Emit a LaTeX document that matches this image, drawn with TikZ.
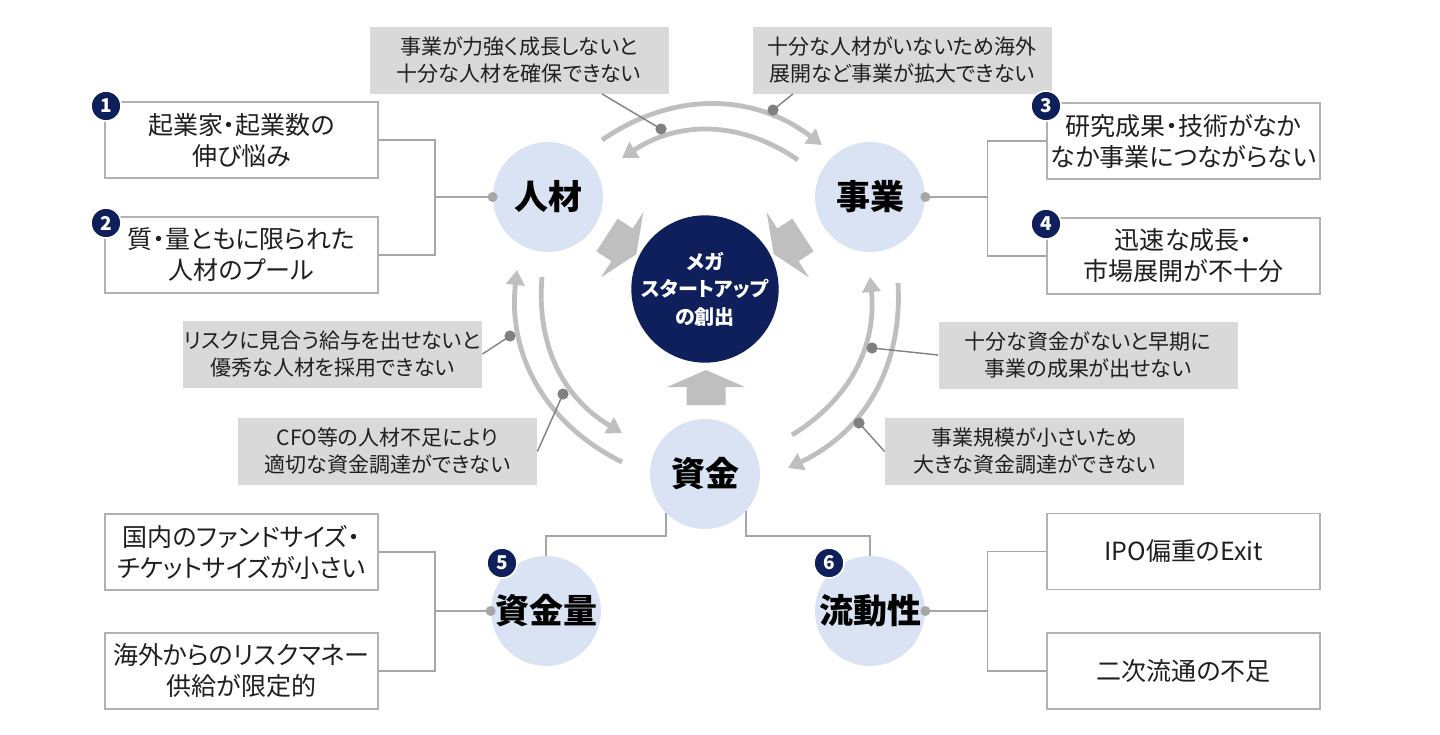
\documentclass[tikz,border=0pt]{standalone}
\usepackage{fontspec}
\setmainfont{Noto Sans CJK JP}[RawFeature=+palt]
\usepackage{xcolor}
\usepackage{tikz}
\usetikzlibrary{positioning,arrows.meta,calc}
\definecolor{factorBlue}{HTML}{DAE3F3}
\definecolor{megaNavy}{HTML}{0E1F5B}
\definecolor{noteGray}{HTML}{D9D9D9}
\definecolor{boxLine}{HTML}{B2B2B2}
\definecolor{linkGray}{HTML}{A6A6A6}
\definecolor{leadGray}{HTML}{808080}
\definecolor{arcGray}{HTML}{BFBFBF}
\newcommand{\fatarrow}[3]{%
  \fill[arcGray,shift={(#1,#2)},rotate=#3]
    (0,-19.5) -- (18,-19.5) -- (18,-39) -- (35,0) -- (18,39) -- (18,19.5) -- (0,19.5) -- cycle;}
\tikzset{
  issue/.style={draw=boxLine,fill=white,line width=0.7pt,minimum width=136.5pt,
    minimum height=38pt,inner sep=0pt,align=center,text=black!88,
    font=\fontsize{12.5}{15.5}\selectfont},
  remark/.style={fill=noteGray,minimum width=149.5pt,minimum height=33.5pt,
    inner sep=0pt,align=center,text=black!88,font=\fontsize{10.5}{13.5}\selectfont},
  factor/.style={circle,fill=factorBlue,minimum size=55pt,inner sep=0pt,
    text=black,font=\fontsize{17}{20}\selectfont\bfseries},
  core/.style={circle,fill=megaNavy,minimum size=67pt,inner sep=0pt,align=center,
    text=white,font=\fontsize{10}{13.8}\selectfont\bfseries},
  badge/.style={circle,fill=megaNavy,draw=white,line width=0.8pt,minimum size=15pt,
    inner sep=0pt,text=white,font=\fontsize{9.5}{10}\selectfont\bfseries},
  link/.style={draw=linkGray,line width=0.9pt},
  joint/.style={circle,fill=linkGray,minimum size=5pt,inner sep=0pt},
  leader/.style={draw=leadGray,line width=0.7pt},
  cyclearrow/.style={draw=arcGray,line width=2.4pt,-{Triangle[length=7.5pt,width=9pt]}}
}
\begin{document}
\begin{tikzpicture}[x=0.5pt,y=-0.5pt]
  \useasboundingbox (0,0) rectangle (1440,734);

  \node[issue] (b1) at (241.5,140) {起業家・起業数の\\伸び悩み};
  \node[issue] (b2) at (241.5,255) {質・量ともに限られた\\人材のプール};
  \node[issue] (b3) at (1183.5,141) {研究成果・技術がなか\\なか事業につながらない};
  \node[issue] (b4) at (1183.5,256) {迅速な成長・\\市場展開が不十分};
  \node[issue] (b5) at (241.5,552) {国内のファンドサイズ・\\チケットサイズが小さい};
  \node[issue] (b6) at (241.5,671) {海外からのリスクマネー\\供給が限定的};
  \node[issue] (b7) at (1183.5,551.5) {IPO偏重のExit};
  \node[issue] (b8) at (1183.5,671) {二次流通の不足};

  \node[remark] (nA) at (519,60) {事業が力強く成長しないと\\十分な人材を確保できない};
  \node[remark] (nB) at (902,60) {十分な人材がいないため海外\\展開など事業が拡大できない};
  \node[remark] (nC) at (332.5,354) {リスクに見合う給与を出せないと\\優秀な人材を採用できない};
  \node[remark] (nD) at (387.5,451.5) {CFO等の人材不足により\\適切な資金調達ができない};
  \node[remark] (nE) at (1088,355) {十分な資金がないと早期に\\事業の成果が出せない};
  \node[remark] (nF) at (1034.5,451.5) {事業規模が小さいため\\大きな資金調達ができない};

  \node[core] (mega) at (705,289) {メガ\\スタートアップ\\の創出};
  \node[factor] (jinzai) at (548,197) {人材};
  \node[factor] (jigyo) at (870,197) {事業};
  \node[factor] (shikin) at (705,474) {資金};
  \node[factor] (ryo) at (546,611) {資金量};
  \node[factor] (ryu) at (870,611) {流動性};

  \draw[link] (jinzai.west) -- ++(-58,0) coordinate (jJ) |- (b1.east);
  \draw[link] (jJ) |- (b2.east);
  \draw[link] (jigyo.east) -- ++(62,0) coordinate (gJ) |- (b3.west);
  \draw[link] (gJ) |- (b4.west);
  \draw[link] (ryo.west) -- ++(-56,0) coordinate (rJ) |- (b5.east);
  \draw[link] (rJ) |- (b6.east);
  \draw[link] (ryu.east) -- ++(62,0) coordinate (uJ) |- (b7.west);
  \draw[link] (uJ) |- (b8.west);
  \draw[link] (shikin.-135) -- ++(0,23) -| (ryo.north);
  \draw[link] (shikin.-42) -- ++(0,25) -| (ryu.north);
  \foreach \n/\a in {jinzai/west,jigyo/east,ryo/west,ryu/east}
    \node[joint] at (\n.\a) {};

  \fatarrow{607}{235}{-33}
  \fatarrow{803}{235}{-147}
  \fatarrow{706}{405}{90}

  \coordinate (tO1) at (602,140); \coordinate (tO2) at (822,145);
  \coordinate (tI1) at (798,160); \coordinate (tI2) at (622,158);
  \coordinate (lO1) at (622,462); \coordinate (lO2) at (517,270);
  \coordinate (lI1) at (542,277); \coordinate (lI2) at (622,433);
  \coordinate (rI1) at (792,435); \coordinate (rI2) at (870,277);
  \coordinate (rO1) at (898,283); \coordinate (rO2) at (788,468);
  \draw[cyclearrow] (tO1) to[bend left=36] (tO2);
  \draw[cyclearrow] (tI1) to[bend right=34] (tI2);
  \draw[cyclearrow] (lO1) to[bend left=35] (lO2);
  \draw[cyclearrow] (lI1) to[bend right=32] (lI2);
  \draw[cyclearrow] (rI1) to[bend right=32] (rI2);
  \draw[cyclearrow] (rO1) to[bend left=34] (rO2);

  \coordinate (dA) at (661,129);
  \coordinate (dB) at (773,110);
  \coordinate (dC) at (510,336);
  \coordinate (dD) at (563,394);
  \coordinate (dE) at (872,348);
  \coordinate (dF) at (859,423);
  \draw[leader] ([xshift=41.5pt]nA.south) -- (dA);
  \draw[leader] ([xshift=-54.5pt]nB.south) -- (dB);
  \draw[leader] (nC.east) -- (dC);
  \draw[leader] (nD.east) -- (dD);
  \draw[leader] (nE.west) -- (dE);
  \draw[leader] (nF.west) -- (dF);
  \foreach \d in {dA,dB,dC,dD,dE,dF}
    \fill[leadGray] (\d) circle (2.8pt);

  \node[badge] (n1) at (106,106) {1};
  \node[badge] (n2) at (106,223) {2};
  \node[badge] (n3) at (1046,106) {3};
  \node[badge] (n4) at (1046,224) {4};
  \node[badge] (n5) at (502,563) {5};
  \node[badge] (n6) at (829,563) {6};
\end{tikzpicture}
\end{document}
